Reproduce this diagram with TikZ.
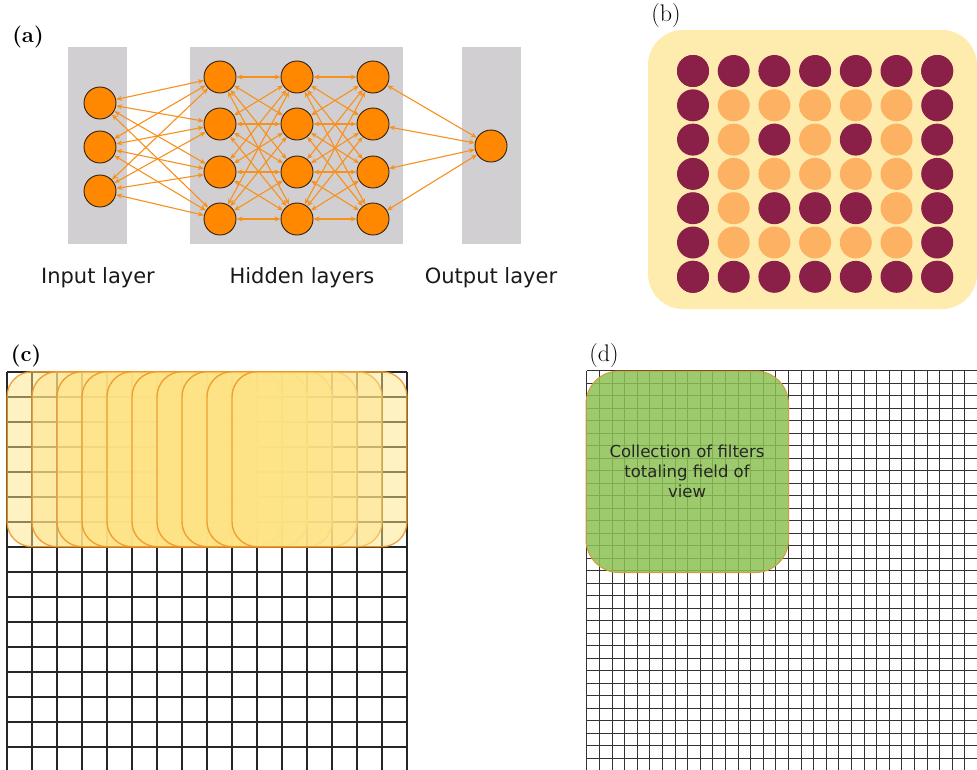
\documentclass[tikz,border=0pt]{standalone}
\usepackage{fontspec}
\usepackage{xcolor}
\usepackage{tikz}
\usetikzlibrary{arrows.meta}
\newfontfamily\sansfont{DejaVu Sans}
\definecolor{neuronorange}{HTML}{FF8800}
\definecolor{synapseorange}{HTML}{F7911E}
\definecolor{layergray}{HTML}{D1CFD1}
\definecolor{darkdot}{HTML}{8A1F48}
\definecolor{lightdot}{HTML}{FCB262}
\definecolor{cream}{HTML}{FEECAF}
\definecolor{filterfill}{HTML}{FEE386}
\definecolor{filteredge}{HTML}{EE9524}
\definecolor{fovgreen}{HTML}{8CC152}
\definecolor{fovedge}{HTML}{D49A3C}

\begin{document}
\begin{tikzpicture}[x=1pt, y=-1pt,
  neuron/.style = {circle, fill=neuronorange, draw=black!75!brown, line width=0.9pt, minimum size=32pt, inner sep=0pt},
  synapse/.style = {draw=synapseorange, line width=1.1pt, {Stealth[length=6pt,width=5pt]}-{Stealth[length=6pt,width=5pt]}},
  layertext/.style = {font=\sansfont\fontsize{21}{25}\selectfont, text=black!90},
  panel/.style = {font=\fontsize{22}{26}\selectfont\bfseries},
  panelthin/.style = {font=\fontsize{24}{28}\selectfont},
  coarsegrid/.style = {black!85, line width=1.6pt},
  finegrid/.style = {black!80, line width=0.8pt},
  filterbox/.style = {rounded corners=25pt, fill=filterfill, fill opacity=0.5, draw=filteredge, draw opacity=0.85, line width=1.4pt},
  fovbox/.style = {rounded corners=33pt, fill=fovgreen, fill opacity=0.85, draw=fovedge, line width=1pt}]
\useasboundingbox (0,0) rectangle (977,769);

% (a) the network
\node[panel] (lbla) at (28,37) {(a)};
\fill[layergray] (68,47) rectangle (127,244); %input
\fill[layergray] (190,47) rectangle (403,244); %hidden
\fill[layergray] (462,47) rectangle (521,244); %output
\foreach \n/\y in {1/103,2/147,3/191} { \node[neuron] (i\n) at (100,\y) {}; }
\foreach \c/\x in {1/220,2/297,3/373} {
  \foreach \n/\y in {1/77,2/124,3/172,4/219} { \node[neuron] (h\c\n) at (\x,\y) {}; }
}
\node[neuron] (o) at (491,146) {};
\foreach \a in {1,2,3} { \foreach \b in {1,...,4} { \draw[synapse] (i\a) -- (h1\b); } }
\foreach \a in {1,...,4} {
  \foreach \b in {1,...,4} { \draw[synapse] (h1\a) -- (h2\b); \draw[synapse] (h2\a) -- (h3\b); }
  \draw[synapse] (h3\a) -- (o);
}
\node[layertext] (inlbl) at (98,278) {Input layer};
\node[layertext] (hidlbl) at (302,278) {Hidden layers};
\node[layertext] (outlbl) at (491,278) {Output layer};

% (b) the dots
\node[panelthin] (lblb) at (666,16) {(b)};
\fill[cream, rounded corners=35pt] (648,30) rectangle (977,309);
\foreach \k in {1,...,7} {
  \fill[darkdot] (652.3+40.7*\k,71) circle (16); %top
  \fill[darkdot] (652.3+40.7*\k,276.8) circle (16); %bottom
  \fill[darkdot] (693,36.7+34.3*\k) circle (16); %left
  \fill[darkdot] (937.2,36.7+34.3*\k) circle (16); %right
}
\foreach \r/\c in {3/3,3/5,5/3,5/4,5/5} { \fill[darkdot] (652.3+40.7*\c,36.7+34.3*\r) circle (16); }
\foreach \r/\c in {2/2,2/3,2/4,2/5,2/6,3/2,3/4,3/6,4/2,4/3,4/4,4/5,4/6,5/2,5/6,6/2,6/3,6/4,6/5,6/6} {
  \fill[lightdot] (652.3+40.7*\c,36.7+34.3*\r) circle (16);
}

% (c) sliding filter
\node[panel] (lblc) at (26,356) {(c)};
\foreach \k in {0,...,16} {
  \draw[coarsegrid] (7+25*\k,371.7) -- (7+25*\k,771.7);
  \draw[coarsegrid] (7,371.7+25*\k) -- (407,371.7+25*\k);
}
\foreach \k in {0,...,9} { \draw[filterbox] (7+25*\k,371.7) rectangle (182+25*\k,546.7); }

% (d) field of view
\node[panelthin] (lbld) at (604,356) {(d)};
\foreach \k in {0,...,31} { \draw[finegrid] (586.7+12.6*\k,370.7) -- (586.7+12.6*\k,771); }
\foreach \k in {0,...,32} { \draw[finegrid] (586.7,370.7+12.5*\k) -- (980,370.7+12.5*\k); }
\draw[fovbox] (586,371) rectangle (788.5,572.5);
\node[font=\sansfont\fontsize{16.5}{20}\selectfont, align=center, text=black!85] (fovtext) at (687,471) {Collection of filters\\totaling field of\\view};
\end{tikzpicture}
\end{document}
